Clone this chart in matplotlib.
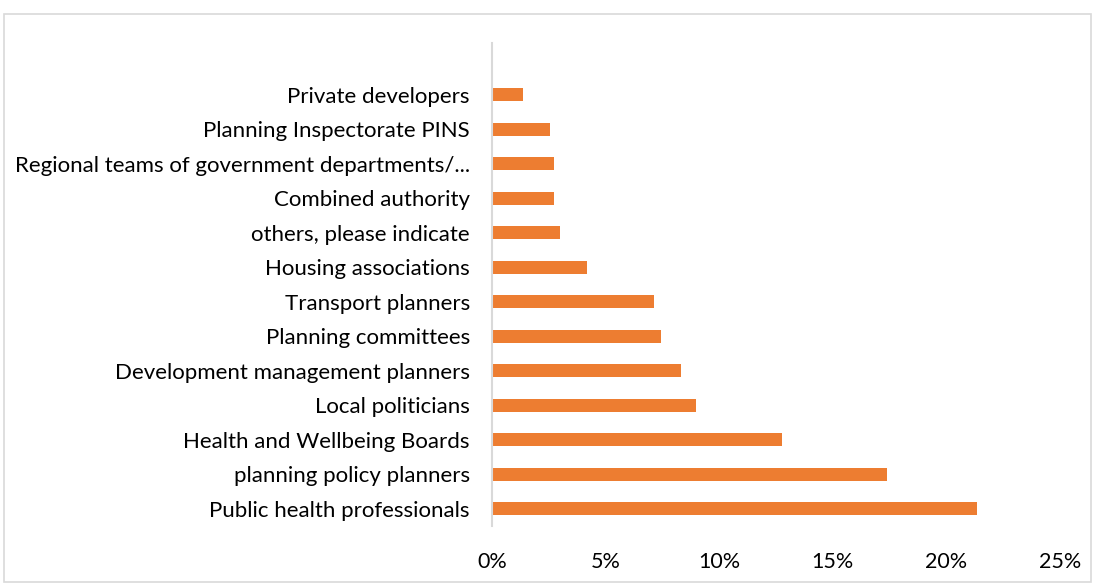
import matplotlib.pyplot as plt
from matplotlib.patches import Rectangle
from matplotlib.ticker import PercentFormatter

# categories listed from bottom to top
categories = [
    "Public health professionals",
    "planning policy planners",
    "Health and Wellbeing Boards",
    "Local politicians",
    "Development management planners",
    "Planning committees",
    "Transport planners",
    "Housing associations",
    "others, please indicate",
    "Combined authority",
    "Regional teams of government departments/...",
    "Planning Inspectorate PINS",
    "Private developers",
]
shares = [21.35, 17.4, 12.75, 9.0, 8.3, 7.45, 7.15, 4.2, 3.0, 2.75, 2.75, 2.55, 1.35]
x_ticks = [0, 5, 10, 15, 20, 25]

plt.rcParams['font.family'] = ['Lato', 'DejaVu Sans']

fig = plt.figure(figsize=(10.96, 5.85), dpi=100)
fig.patches.append(Rectangle((4 / 1096, 3 / 585), 1087 / 1096, 568 / 585,
                             transform=fig.transFigure, fill=False,
                             edgecolor="#d9d9d9", linewidth=1.2))

ax = fig.add_axes([492 / 1096, 1 - 526 / 585, 568 / 1096, 483 / 585])
pos = list(range(len(categories)))
ax.barh(pos, shares, height=0.38, color="#ED7D31")

ax.set_xlim(0, 25)
ax.set_ylim(-0.5, len(categories) + 0.5)
ax.set_yticks(pos)
ax.set_yticklabels(categories)
ax.set_xticks(x_ticks)
ax.xaxis.set_major_formatter(PercentFormatter(decimals=0))

for s in ["top", "right", "bottom"]:
    ax.spines[s].set_visible(False)
ax.spines["left"].set_color("#d9d9d9")
ax.spines["left"].set_linewidth(1.5)

ax.tick_params(axis="y", length=0, pad=16, labelsize=16, labelcolor="#000000")
ax.tick_params(axis="x", length=0, pad=19, labelsize=15.5, labelcolor="#000000")

fig.savefig("out.png", dpi=100)
